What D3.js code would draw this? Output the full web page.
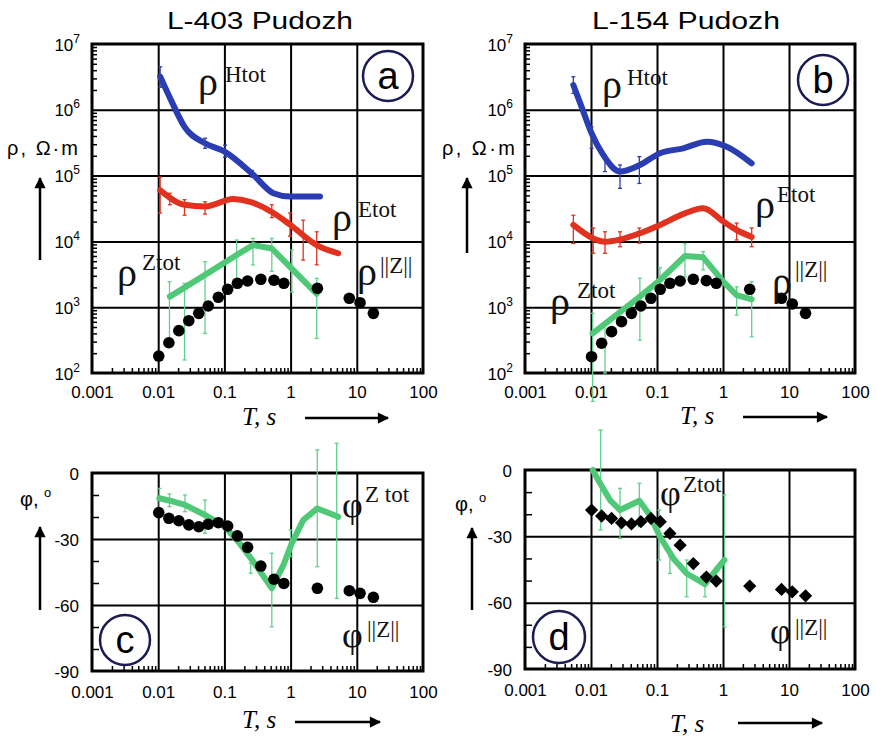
<!DOCTYPE html>
<html><head><meta charset="utf-8">
<script src="https://cdn.jsdelivr.net/npm/d3@7"></script>
<style>body{margin:0;background:#fff}svg{display:block}</style>
</head><body>
<svg id="chart" width="876" height="739"></svg>
<script>
// ---------------- DATA ----------------
const titles = ["L-403 Pudozh", "L-154 Pudozh"];
const xTickVals = [0.001, 0.01, 0.1, 1, 10, 100];
const xTickLabels = ["0.001", "0.01", "0.1", "1", "10", "100"];
const rhoTickExp = [2, 3, 4, 5, 6, 7];
const phiTickVals = [0, -30, -60, -90];

// ||Z|| periods (s)
const periodsZ = [0.0102, 0.0145, 0.0205, 0.029, 0.041, 0.057, 0.081, 0.112, 0.157, 0.224, 0.355, 0.56, 0.79, 2.54, 7.7, 11.2, 17.8];
const aRhoZ = [181, 288, 440, 624, 807, 1043, 1413, 1870, 2307, 2500, 2655, 2570, 2307, 1936, 1365, 1170, 807];
const bRhoZ = [177, 283, 425, 603, 807, 1043, 1365, 1870, 2307, 2500, 2655, 2530, 2307, 1870, 1365, 1120, 807];
const cPhiZ = [-18.0, -20.6, -21.7, -23.6, -24.4, -23.3, -22.6, -24.1, -28.6, -33.8, -42.3, -48.3, -50.2, -52.4, -53.5, -54.7, -56.5];
const dPhiZ = [-18.1, -20.8, -21.9, -23.9, -24.4, -23.4, -21.9, -23.4, -28.7, -34.0, -42.3, -48.4, -50.2, -52.5, -54.0, -55.1, -56.9];

// panel a
const aHtotT = [0.0107, 0.016, 0.025, 0.051, 0.102, 0.26, 0.55, 0.98, 2.78];
const aHtot = [3.2e6, 1.33e6, 5.5e5, 3.1e5, 2.3e5, 1.08e5, 5.4e4, 4.8e4, 4.8e4];
const aHtotErr = [[0.0107, 2.2e6, 4.5e6], [0.051, 2.6e5, 3.7e5], [0.102, 1.9e5, 2.9e5], [0.26, 9.5e4, 1.2e5]];
const aEtotT = [0.0107, 0.025, 0.051, 0.136, 0.244, 0.52, 0.98, 2.48, 5.25];
const aEtot = [6.0e4, 3.6e4, 3.4e4, 4.4e4, 4.0e4, 2.8e4, 1.8e4, 8.8e3, 6.6e3];
const aEtotErr = [[0.0107, 2.7e4, 9.5e4], [0.015, 3.6e4, 5.4e4], [0.025, 2.5e4, 4.3e4], [0.051, 2.6e4, 4.0e4], [0.52, 2.3e4, 3.6e4], [0.98, 1.2e4, 2.7e4], [1.55, 5.2e3, 2.1e4], [2.48, 4.4e3, 1.4e4]];
const aZtotT = [0.015, 0.051, 0.153, 0.27, 0.52, 2.48];
const aZtot = [1450, 3100, 6200, 8800, 7800, 1600];
const aZtotErr = [[0.0148, 316, 2440], [0.025, 158, 2300], [0.051, 400, 4900], [0.153, 2600, 10500], [0.27, 4400, 11100], [0.52, 3500, 11100], [1.04, 1700, 7400], [2.48, 336, 2750]];

// panel b
const bHtotT = [0.0054, 0.0072, 0.0102, 0.0153, 0.0275, 0.055, 0.111, 0.25, 0.57, 1.14, 2.72];
const bHtot = [2.38e6, 1.11e6, 4.4e5, 2.06e5, 1.15e5, 1.45e5, 2.19e5, 2.6e5, 3.27e5, 2.75e5, 1.54e5];
const bHtotErr = [[0.0054, 1.78e6, 3.18e6], [0.0102, 2.6e5, 5.5e5], [0.0163, 1.15e5, 2.06e5], [0.0275, 6.4e4, 1.45e5], [0.054, 7.6e4, 1.94e5]];
const bEtotT = [0.0054, 0.0108, 0.0163, 0.0275, 0.055, 0.111, 0.265, 0.5, 1.01, 1.61, 2.72];
const bEtot = [1.78e4, 1.11e4, 9.9e3, 1.07e4, 1.33e4, 1.78e4, 2.67e4, 3.18e4, 2.0e4, 1.49e4, 1.17e4];
const bEtotErr = [[0.0054, 9.3e3, 2.5e4], [0.0108, 6.6e3, 1.6e4], [0.0163, 6.6e3, 1.4e4], [0.0275, 8.3e3, 1.4e4], [0.054, 9.4e3, 1.6e4], [1.61, 1.05e4, 1.9e4], [2.72, 8.3e3, 1.6e4]];
const bZtotT = [0.0106, 0.055, 0.111, 0.265, 0.5, 1.01, 1.61, 2.72];
const bZtot = [400, 1450, 2590, 6000, 5730, 2440, 1530, 1320];
const bZtotErr = [[0.0106, 37, 807], [0.0163, 100, 537], [0.055, 316, 2750], [0.111, 1600, 4000], [0.265, 2900, 9300], [0.5, 3700, 7000], [1.61, 760, 2040], [2.72, 355, 2440]];

// panel c
const cZtotT = [0.0104, 0.0151, 0.0254, 0.051, 0.102, 0.162, 0.274, 0.52, 0.78, 1.04, 1.55, 2.53, 5.25];
const cZtot = [-11.5, -12.6, -14.5, -19.1, -24.4, -31.2, -40.3, -52.4, -41.8, -32.0, -21.4, -16.1, -19.9];
const cZtotErr = [[0.0104, -16.8, -7.0], [0.0148, -15.3, -9.5], [0.0254, -17.6, -10], [0.051, -27.4, -12.3], [0.25, -45.6, -41], [0.52, -69.9, -36.5], [1.0, -38, -25.9], [2.53, -42.6, 10.5], [4.97, -57, 13.5]];

// panel d
const dZtotT = [0.0106, 0.0137, 0.0194, 0.0275, 0.054, 0.078, 0.111, 0.177, 0.282, 0.533, 0.713, 1.05];
const dZtot = [0, -6.0, -13.6, -18.1, -13.9, -20.4, -30.2, -40.0, -46.8, -51.6, -46.8, -40.7];
const dZtotErr = [[0.014, -27.1, 18.1], [0.0275, -30.9, -8.3], [0.054, -25.6, -6.0], [0.108, -40.7, -18.1], [0.157, -46.8, -39.2], [0.282, -57.3, -40.7], [0.533, -57.3, -46.8], [1.05, -70.9, -11.3]];

// ---------------- DRAWING ----------------
const BLUE = "#2b3db2", RED = "#e0321e", GREEN = "#4fc878", GREEN_ERR = "#62d08a";
const SANS = '"Liberation Sans", Arial, sans-serif';
const SERIF = '"Liberation Serif", "Times New Roman", serif';
const svg = d3.select("#chart");

const defs = svg.append("defs");
defs.append("marker").attr("id", "arrow").attr("viewBox", "0 0 10 10").attr("refX", 9).attr("refY", 5)
  .attr("markerWidth", 5).attr("markerHeight", 4.5).attr("markerUnits", "strokeWidth").attr("orient", "auto")
  .append("path").attr("d", "M0,0 L10,5 L0,10 Z").attr("fill", "#000");

const minorX = [];
for (let e = -3; e <= 1; e++) for (let k = 2; k <= 9; k++) minorX.push(k * Math.pow(10, e));
const minorRho = [];
for (let e = 2; e <= 6; e++) for (let k = 2; k <= 9; k++) minorRho.push(k * Math.pow(10, e));
const minorPhi = [-10, -20, -40, -50, -70, -80];

function makePanel(p) {
  const x = d3.scaleLog().domain([0.001, 100]).range([p.x0, p.x1]);
  const y = p.log ? d3.scaleLog().domain([100, 1e7]).range([p.y1, p.y0])
                  : d3.scaleLinear().domain([-90, 0]).range([p.y1, p.y0]);
  const W = p.x1 - p.x0, H = p.y1 - p.y0;
  const g = svg.append("g");
  const clean = s => { s.select(".domain").remove(); s.selectAll(".tick line").attr("stroke", "#000"); };

  // grid
  g.append("g").attr("transform", `translate(0,${p.y1})`)
    .call(d3.axisBottom(x).tickValues(xTickVals.slice(1, -1)).tickSize(-H).tickFormat(""))
    .call(clean).call(s => s.selectAll(".tick line").attr("stroke-width", 2));
  const yMajor = p.log ? rhoTickExp.slice(1, -1).map(e => Math.pow(10, e)) : phiTickVals.slice(1, -1);
  g.append("g").attr("transform", `translate(${p.x0},0)`)
    .call(d3.axisLeft(y).tickValues(yMajor).tickSize(-W).tickFormat(""))
    .call(clean).call(s => s.selectAll(".tick line").attr("stroke-width", 2));

  // minor ticks
  g.append("g").attr("transform", `translate(0,${p.y1})`)
    .call(d3.axisBottom(x).tickValues(minorX).tickSize(-5).tickFormat(""))
    .call(clean).call(s => s.selectAll(".tick line").attr("stroke-width", 1.5));
  g.append("g").attr("transform", `translate(${p.x0},0)`)
    .call(d3.axisLeft(y).tickValues(p.log ? minorRho : minorPhi).tickSize(p.log ? -5 : -7).tickFormat(""))
    .call(clean).call(s => s.selectAll(".tick line").attr("stroke-width", 1.5));

  // x tick labels
  g.append("g").attr("transform", `translate(0,${p.y1 + p.xLabOff})`)
    .call(d3.axisBottom(x).tickValues(xTickVals).tickSize(0).tickPadding(0).tickFormat((d, i) => xTickLabels[i]))
    .call(s => s.select(".domain").remove())
    .call(s => s.selectAll("text").attr("font-family", SANS).attr("font-size", 17).attr("fill", "#000").attr("dy", "0"));

  // y tick labels
  if (p.log) {
    const ya = g.append("g").attr("transform", `translate(${p.x0 - 12},0)`)
      .call(d3.axisLeft(y).tickValues(rhoTickExp.map(e => Math.pow(10, e))).tickSize(0).tickPadding(0).tickFormat(""))
      .call(s => s.select(".domain").remove());
    ya.selectAll(".tick text").each(function (d) {
      const t = d3.select(this).attr("font-family", SANS).attr("fill", "#000").attr("dy", "0.36em").attr("font-size", 17);
      t.append("tspan").text("10");
      t.append("tspan").attr("font-size", 12).attr("dy", -8).text(Math.round(Math.log10(d)));
    });
  } else {
    g.append("g").attr("transform", `translate(${p.x0 - 13},0)`)
      .call(d3.axisLeft(y).tickValues(phiTickVals).tickSize(0).tickPadding(0).tickFormat(d => String(d)))
      .call(s => s.select(".domain").remove())
      .call(s => s.selectAll("text").attr("font-family", SANS).attr("font-size", 17).attr("fill", "#000").attr("dy", "0.36em"));
  }

  // frame
  g.append("rect").attr("x", p.x0).attr("y", p.y0).attr("width", W).attr("height", H)
    .attr("fill", "none").attr("stroke", "#000").attr("stroke-width", 3);

  return { g, x, y };
}

function errBars(P, data, color) {
  const gg = P.g.append("g").attr("stroke", color).attr("stroke-width", 1.3).attr("fill", "none");
  data.forEach(([t, lo, hi]) => {
    const xx = P.x(t), y1 = P.y(lo), y2 = P.y(hi);
    gg.append("line").attr("x1", xx).attr("x2", xx).attr("y1", y1).attr("y2", y2);
    gg.append("line").attr("x1", xx - 2).attr("x2", xx + 2).attr("y1", y1).attr("y2", y1);
    gg.append("line").attr("x1", xx - 2).attr("x2", xx + 2).attr("y1", y2).attr("y2", y2);
  });
}
function curve(P, T, V, color, curveType) {
  const line = d3.line().x((d, i) => P.x(T[i])).y(d => P.y(d)).curve(curveType || d3.curveMonotoneX);
  P.g.append("path").datum(V).attr("d", line).attr("fill", "none").attr("stroke", color)
    .attr("stroke-width", 6).attr("stroke-linejoin", "round").attr("stroke-linecap", "round");
}
function dots(P, T, V, diamond) {
  const gg = P.g.append("g").attr("fill", "#000");
  if (diamond) {
    const sym = d3.symbol().type(d3.symbolSquare).size(88);
    V.forEach((v, i) => gg.append("path").attr("d", sym())
      .attr("transform", `translate(${P.x(T[i])},${P.y(v)}) rotate(45)`));
  } else {
    V.forEach((v, i) => gg.append("circle").attr("cx", P.x(T[i])).attr("cy", P.y(v)).attr("r", 5.8));
  }
}
function greekLabel(sym, x, y, sup, sx, sy, size) {
  svg.append("text").attr("x", x).attr("y", y).attr("font-family", SERIF).attr("font-size", size || 40).attr("fill", "#111").text(sym);
  svg.append("text").attr("x", sx).attr("y", sy).attr("font-family", SERIF).attr("font-size", 23).attr("fill", "#111").text(sup);
}
function circleLabel(cx, cy, r, letter) {
  svg.append("circle").attr("cx", cx).attr("cy", cy).attr("r", r).attr("fill", "none").attr("stroke", "#1c1c55").attr("stroke-width", 2.5);
  svg.append("text").attr("x", cx).attr("y", cy + 13).attr("text-anchor", "middle").attr("font-family", SANS).attr("font-size", 38).attr("fill", "#000").text(letter);
}
function arrow(x1, y1, x2, y2) {
  svg.append("line").attr("x1", x1).attr("y1", y1).attr("x2", x2).attr("y2", y2)
    .attr("stroke", "#000").attr("stroke-width", 2.5).attr("marker-end", "url(#arrow)");
}
function tLabel(x, y) {
  const t = svg.append("text").attr("x", x).attr("y", y).attr("font-family", SERIF).attr("font-size", 25).attr("font-style", "italic").attr("fill", "#000");
  t.text("T, s");
}
function rhoAxisLabel(x, y, len) {
  svg.append("text").attr("x", x).attr("y", y).attr("font-family", SANS).attr("font-size", 20).attr("fill", "#000")
    .attr("textLength", len).attr("lengthAdjust", "spacing").text("ρ, Ω·m");
}
function phiAxisLabel(x, y) {
  const t = svg.append("text").attr("x", x).attr("y", y).attr("font-family", SANS).attr("font-size", 20).attr("fill", "#000");
  t.append("tspan").text("φ, ");
  t.append("tspan").attr("font-size", 13).attr("dy", -9).text("o");
}

// titles
svg.append("text").attr("x", 167).attr("y", 29).attr("font-family", SANS).attr("font-size", 23)
  .attr("textLength", 186).attr("lengthAdjust", "spacingAndGlyphs").text(titles[0]);
svg.append("text").attr("x", 592).attr("y", 29).attr("font-family", SANS).attr("font-size", 23)
  .attr("textLength", 188).attr("lengthAdjust", "spacingAndGlyphs").text(titles[1]);

// Panel a
const A = makePanel({ x0: 92, x1: 423, y0: 44, y1: 373, log: true, xLabOff: 25 });
errBars(A, aHtotErr, BLUE); errBars(A, aEtotErr, RED); errBars(A, aZtotErr, GREEN_ERR);
curve(A, aHtotT, aHtot, BLUE); curve(A, aEtotT, aEtot, RED); curve(A, aZtotT, aZtot, GREEN, d3.curveLinear);
dots(A, periodsZ, aRhoZ, false);

// Panel b
const B = makePanel({ x0: 525, x1: 855, y0: 44, y1: 373, log: true, xLabOff: 25 });
errBars(B, bHtotErr, BLUE); errBars(B, bEtotErr, RED); errBars(B, bZtotErr, GREEN_ERR);
curve(B, bHtotT, bHtot, BLUE); curve(B, bEtotT, bEtot, RED); curve(B, bZtotT, bZtot, GREEN, d3.curveLinear);
dots(B, periodsZ, bRhoZ, false);

// Panel c
const C = makePanel({ x0: 92, x1: 423, y0: 473, y1: 671, log: false, xLabOff: 27 });
errBars(C, cZtotErr, GREEN_ERR);
curve(C, cZtotT, cZtot, GREEN, d3.curveLinear);
dots(C, periodsZ, cPhiZ, false);

// Panel d
const D = makePanel({ x0: 525, x1: 855, y0: 470, y1: 669, log: false, xLabOff: 27 });
errBars(D, dZtotErr, GREEN_ERR);
curve(D, dZtotT, dZtot, GREEN, d3.curveLinear);
dots(D, periodsZ, dPhiZ, true);

// labels inside plots
greekLabel("ρ", 198, 95, "Htot", 225, 82);
greekLabel("ρ", 332, 231, "Etot", 358, 217);
greekLabel("ρ", 117, 286, "Ztot", 142, 270);
greekLabel("ρ", 357, 285, "||Z||", 380, 273);
greekLabel("ρ", 602, 98, "Htot", 627, 85);
greekLabel("ρ", 755, 218, "Etot", 777, 202);
greekLabel("ρ", 550, 315, "Ztot", 577, 298);
greekLabel("ρ", 772, 295, "||Z||", 795, 277);
greekLabel("φ", 342, 517, "Z tot", 365, 502, 36);
greekLabel("φ", 342, 647, "||Z||", 367, 637, 36);
greekLabel("φ", 660, 505, "Ztot", 683, 492, 36);
greekLabel("φ", 770, 643, "||Z||", 795, 635, 36);

circleLabel(388, 76, 25, "a");
circleLabel(823, 80, 25, "b");
circleLabel(125, 640, 25, "c");
circleLabel(559, 637, 26, "d");

// axis titles and arrows
rhoAxisLabel(7, 155, 71); rhoAxisLabel(442, 155, 73);
phiAxisLabel(20, 506); phiAxisLabel(455, 511);
arrow(40, 260, 40, 178); arrow(467, 253, 467, 178);
arrow(40, 610, 40, 527); arrow(472, 610, 472, 528);
tLabel(242, 425); tLabel(680, 424); tLabel(242, 728); tLabel(670, 732);
arrow(305, 418, 388, 418); arrow(743, 417, 827, 417);
arrow(295, 722, 380, 722); arrow(738, 723, 822, 723);
</script>
</body></html>
